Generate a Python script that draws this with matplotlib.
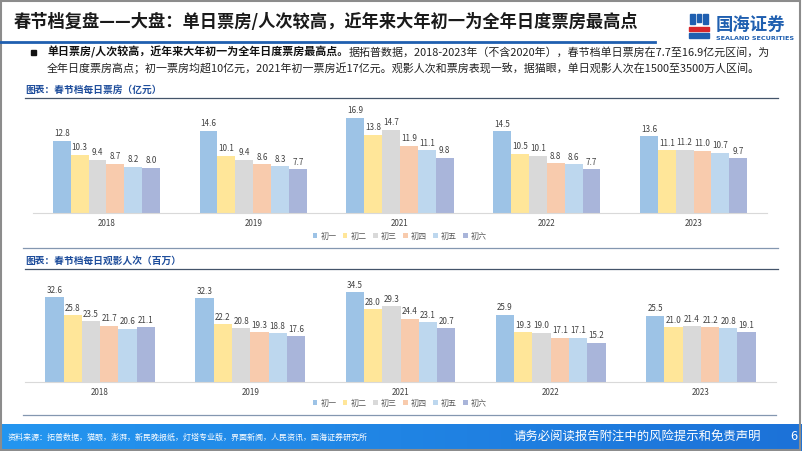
import numpy as np
import matplotlib.pyplot as plt
from matplotlib.patches import Rectangle
from matplotlib.colors import LinearSegmentedColormap

plt.rcParams['font.family'] = ['Noto Sans CJK SC', 'DejaVu Sans']

# data
years = ['2018', '2019', '2021', '2022', '2023']
days = ['初一', '初二', '初三', '初四', '初五', '初六']
box_office = [  # 亿元, one row per day
    [12.8, 14.6, 16.9, 14.5, 13.6],
    [10.3, 10.1, 13.8, 10.5, 11.1],
    [9.4, 9.4, 14.7, 10.1, 11.2],
    [8.7, 8.6, 11.9, 8.8, 11.0],
    [8.2, 8.3, 11.1, 8.6, 10.7],
    [8.0, 7.7, 9.8, 7.7, 9.7],
]
admissions = [  # 百万
    [32.6, 32.3, 34.5, 25.9, 25.5],
    [25.8, 22.2, 28.0, 19.3, 21.0],
    [23.5, 20.8, 29.3, 19.0, 21.4],
    [21.7, 19.3, 24.4, 17.1, 21.2],
    [20.6, 18.8, 23.1, 17.1, 20.8],
    [21.1, 17.6, 20.7, 15.2, 19.1],
]
colors = ['#9DC3E6', '#FFE699', '#D9D9D9', '#F8CBAD', '#BDD7EE', '#A9B5DA']

W, H = 802, 451
fig = plt.figure(figsize=(W / 100, H / 100), dpi=100)


def fx(x):
    return x / W


def fy(y):
    return 1 - y / H


def hline(y, x0, x1, color, lw):
    fig.add_artist(plt.Line2D([fx(x0), fx(x1)], [fy(y), fy(y)], color=color, lw=lw))


# header
fig.text(fx(14), fy(22), '春节档复盘——大盘：单日票房/人次较高，近年来大年初一为全年日度票房最高点',
         fontsize=12.4, fontweight='bold', color='#1a1a1a', va='center')
hline(42, 0, 655, '#1F5FB0', 2.0)

# logo
fig.add_artist(Rectangle((fx(690), fy(24)), fx(5), 10 / H, color='#1F5FB0'))
fig.add_artist(Rectangle((fx(697), fy(22)), fx(4), 8 / H, color='#1F5FB0'))
fig.add_artist(Rectangle((fx(703), fy(24)), fx(5), 10 / H, color='#1F5FB0'))
fig.add_artist(Rectangle((fx(689), fy(31)), fx(20), 4 / H, color='#D7262B'))
fig.add_artist(Rectangle((fx(689), fy(38)), fx(20), 5 / H, color='#1F5FB0'))
fig.text(fx(716), fy(25), '国海证券', fontsize=12.5, fontweight='bold', color='#1F5FB0', va='center')
fig.text(fx(716), fy(39), 'SEALAND SECURITIES', fontsize=4.6, fontweight='bold',
         color='#1F5FB0', va='center', family='DejaVu Sans')

# bullet text
fig.add_artist(Rectangle((fx(31), fy(55)), fx(5), 5 / H, color='#111111'))
t1 = fig.text(fx(47), fy(52), '单日票房/人次较高，近年来大年初一为全年日度票房最高点。',
              fontsize=7.9, fontweight='bold', color='#111111', va='center')
fig.canvas.draw()
bb = t1.get_window_extent()
fig.text(bb.x1 / W, fy(52), '据拓普数据，2018-2023年（不含2020年），春节档单日票房在7.7至16.9亿元区间，为',
         fontsize=7.9, color='#222222', va='center')
fig.text(fx(47), fy(68), '全年日度票房高点；初一票房均超10亿元，2021年初一票房近17亿元。观影人次和票房表现一致，据猫眼，单日观影人次在1500至3500万人区间。',
         fontsize=7.9, color='#222222', va='center')


def panel(ax, values, ymax, title, ty, line_y, legend_y, label_pad):
    x = np.arange(len(years))
    w = 0.73 / len(days)
    bars = []
    for i, (d, vals) in enumerate(zip(days, values)):
        b = ax.bar(x + (i - 2.5) * w, vals, w, color=colors[i], label=d)
        bars.append(b)
        for xi, v in zip(x + (i - 2.5) * w, vals):
            ax.text(xi, v + label_pad, f'{v:.1f}', ha='center', va='bottom',
                    fontsize=5.8, color='#404040')
    ax.set_xlim(-0.5, len(years) - 0.5)
    ax.set_ylim(0, ymax)
    ax.set_xticks(x)
    ax.set_xticklabels(years, fontsize=5.8, color='#404040')
    ax.tick_params(axis='x', length=0, pad=4)
    ax.set_yticks([])
    for s in ['top', 'right', 'left']:
        ax.spines[s].set_visible(False)
    ax.spines['bottom'].set_color('#D9D9D9')
    ax.patch.set_alpha(0)
    fig.text(fx(25), fy(ty), title, fontsize=7, fontweight='bold', color='#1F4E9C', va='center')
    hline(line_y, 25, 778, '#44546A', 0.9)
    fig.legend(handles=bars, labels=days, loc='center', bbox_to_anchor=(fx(400), fy(legend_y)),
               ncol=6, frameon=False, fontsize=5.8, labelcolor='#595959',
               handlelength=0.55, handleheight=0.55, handletextpad=0.4, columnspacing=0.8)


ax1 = fig.add_axes([fx(33), fy(213), fx(734), 113 / H])
panel(ax1, box_office, 20, '图表：春节档每日票房（亿元）', 90, 98, 236, 0.45)

hline(248, 23, 778, '#8497B0', 0.9)

ax2 = fig.add_axes([fx(25), fy(382), fx(751), 107 / H])
panel(ax2, admissions, 41.2, '图表：春节档每日观影人次（百万）', 261, 269, 403, 0.9)

hline(415, 23, 776, '#8497B0', 0.9)

# footer
axf = fig.add_axes([0, 0, 1, 27 / H])
grad = np.linspace(0, 1, 256).reshape(1, -1)
axf.imshow(grad, aspect='auto', cmap=LinearSegmentedColormap.from_list('f', ['#2496F0', '#1C72D8']))
axf.axis('off')
fig.text(fx(8), fy(437), '资料来源：拓普数据，猫眼，澎湃，新民晚报纸，灯塔专业版，界面新闻，人民资讯，国海证券研究所',
         fontsize=5.8, color='white', va='center')
fig.text(fx(513), fy(437), '请务必阅读报告附注中的风险提示和免责声明', fontsize=8.9, color='white', va='center')
fig.text(fx(790), fy(437), '6', fontsize=9, color='white', va='center')

fig.add_artist(Rectangle((0.001, 0.002), 0.997, 0.996, fill=False, edgecolor='#8C8C8C', lw=1.5))

fig.savefig('out.png', dpi=100)
